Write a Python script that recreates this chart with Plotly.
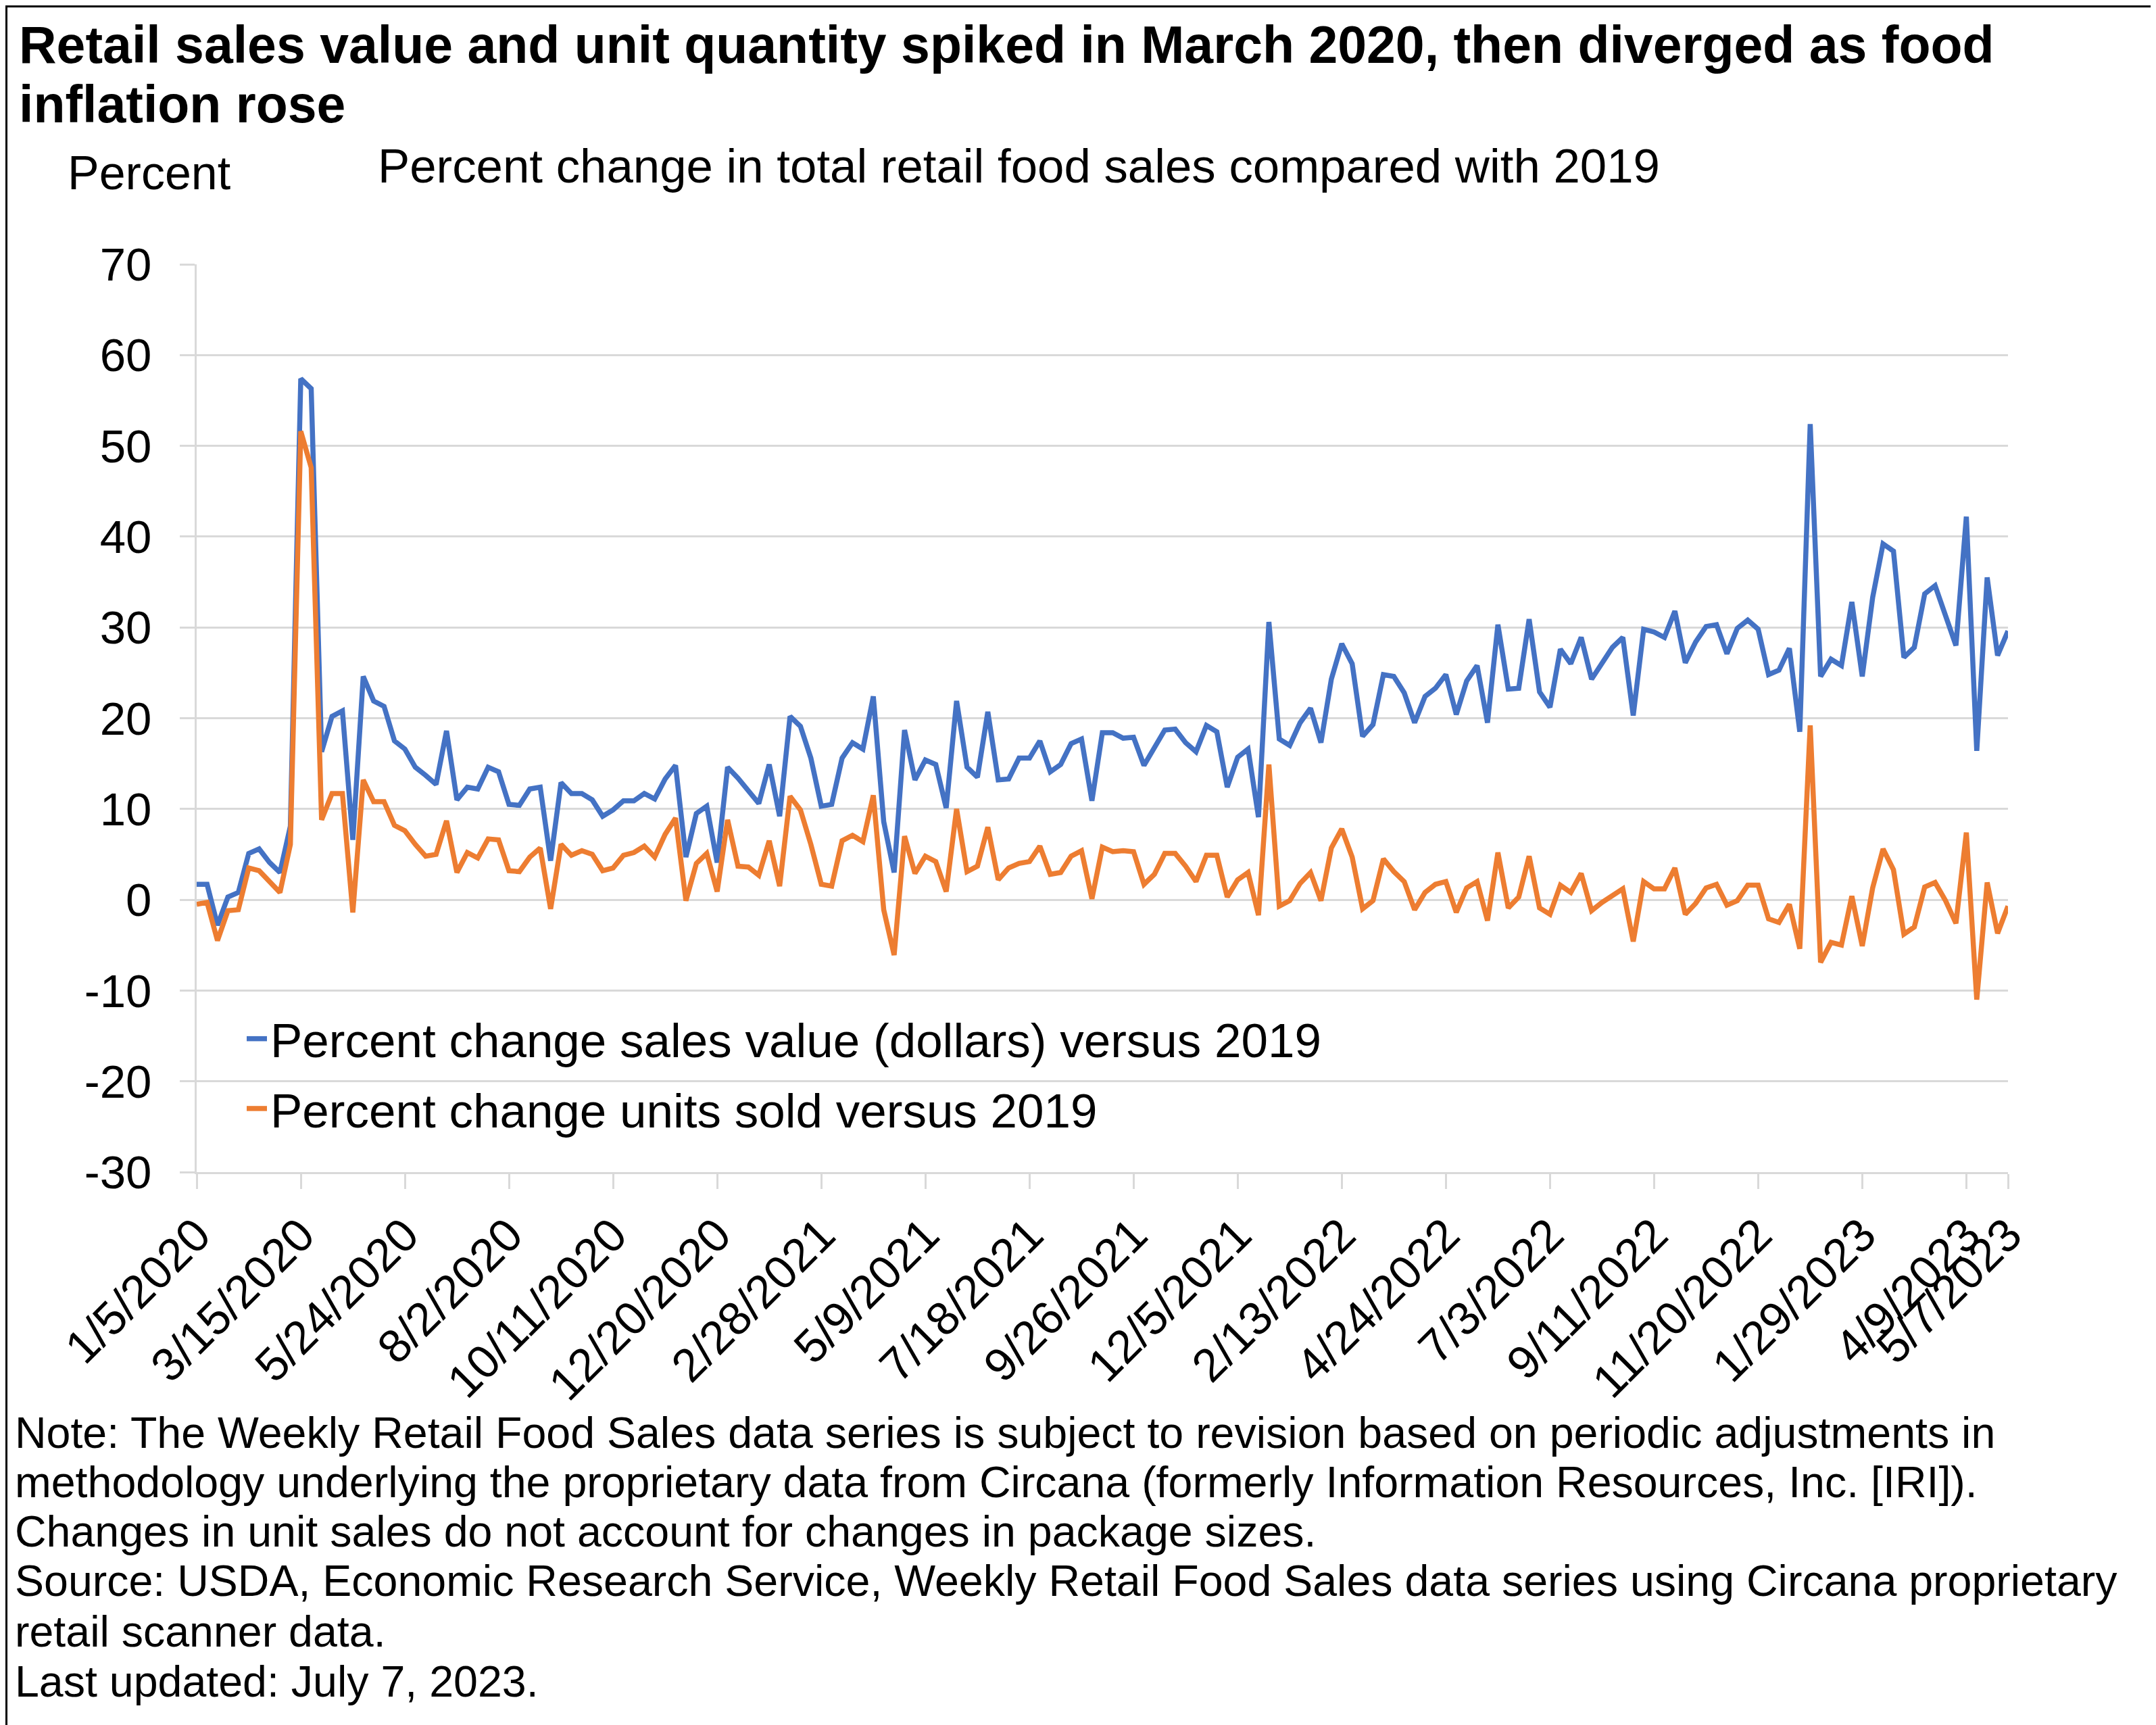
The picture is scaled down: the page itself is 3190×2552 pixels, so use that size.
import pandas as pd
import plotly.graph_objects as go

# ---- data ----
weeks = [d.strftime("%-m/%-d/%Y") for d in pd.date_range("2020-01-05", periods=175, freq="7D")]

sales_value = [
    1.7, 1.7, -2.8, 0.3, 0.8, 5.1, 5.6, 4.1, 3.0, 8.1,
    57.4, 56.3, 16.3, 20.2, 20.8, 6.6, 24.6, 21.9, 21.3, 17.5,
    16.6, 14.6, 13.7, 12.7, 18.6, 11.0, 12.4, 12.2, 14.6, 14.1,
    10.5, 10.4, 12.2, 12.4, 4.3, 12.9, 11.7, 11.7, 11.0, 9.2,
    9.9, 10.9, 10.9, 11.7, 11.1, 13.3, 14.8, 4.7, 9.5, 10.3,
    4.1, 14.6, 13.4, 12.1, 10.6, 14.9, 9.2, 20.2, 19.1, 15.6,
    10.3, 10.5, 15.6, 17.3, 16.6, 22.4, 8.6, 3.0, 18.7, 13.2,
    15.4, 14.9, 10.1, 21.9, 14.6, 13.5, 20.7, 13.2, 13.3, 15.6,
    15.6, 17.5, 14.1, 14.9, 17.2, 17.7, 10.9, 18.4, 18.4, 17.8,
    17.9, 14.8, 16.8, 18.7, 18.8, 17.3, 16.3, 19.2, 18.5, 12.4,
    15.7, 16.6, 9.1, 30.6, 17.7, 17.0, 19.5, 21.1, 17.3, 24.3,
    28.2, 26.0, 18.0, 19.3, 24.8, 24.6, 22.8, 19.5, 22.4, 23.3,
    24.8, 20.4, 24.1, 25.8, 19.5, 30.3, 23.2, 23.3, 30.9, 22.9,
    21.2, 27.6, 26.0, 28.9, 24.3, 26.1, 27.8, 28.9, 20.3, 29.8,
    29.5, 28.9, 31.8, 26.1, 28.4, 30.1, 30.3, 27.1, 29.9, 30.8,
    29.8, 24.8, 25.3, 27.7, 18.5, 52.4, 24.6, 26.5, 25.8, 32.8,
    24.6, 33.3, 39.2, 38.4, 26.7, 27.8, 33.7, 34.6, 31.4, 28.0,
    42.2, 16.4, 35.5, 26.9, 29.6,
]

units_sold = [
    -0.5, -0.3, -4.5, -1.2, -1.1, 3.5, 3.2, 2.0, 0.8, 6.1,
    51.6, 47.6, 8.8, 11.7, 11.7, -1.4, 13.2, 10.8, 10.8, 8.2,
    7.6, 6.1, 4.8, 5.0, 8.7, 3.0, 5.2, 4.6, 6.7, 6.6,
    3.2, 3.1, 4.7, 5.7, -1.0, 6.1, 4.9, 5.4, 5.0, 3.2,
    3.5, 4.9, 5.2, 5.9, 4.7, 7.2, 9.0, -0.1, 4.0, 5.1,
    0.9, 8.8, 3.7, 3.6, 2.7, 6.5, 1.5, 11.4, 9.9, 6.1,
    1.7, 1.5, 6.5, 7.1, 6.4, 11.5, -1.1, -6.1, 7.0, 2.9,
    4.8, 4.2, 0.9, 10.0, 3.1, 3.7, 8.0, 2.2, 3.5, 4.0,
    4.2, 5.9, 2.8, 3.0, 4.8, 5.4, 0.1, 5.8, 5.3, 5.4,
    5.3, 1.7, 2.8, 5.1, 5.1, 3.7, 2.0, 4.9, 4.9, 0.3,
    2.2, 3.0, -1.7, 14.9, -0.7, -0.1, 1.8, 3.0, -0.1, 5.7,
    7.8, 4.7, -1.0, -0.1, 4.5, 3.1, 2.0, -1.1, 0.8, 1.7,
    2.0, -1.4, 1.3, 2.0, -2.3, 5.2, -0.9, 0.3, 4.8, -0.9,
    -1.6, 1.6, 0.8, 2.9, -1.2, -0.3, 0.5, 1.2, -4.6, 2.0,
    1.2, 1.2, 3.5, -1.6, -0.4, 1.3, 1.7, -0.6, -0.1, 1.6,
    1.6, -2.1, -2.5, -0.5, -5.4, 19.2, -6.9, -4.7, -5.0, 0.4,
    -5.1, 1.3, 5.6, 3.3, -3.8, -3.0, 1.4, 1.9, -0.1, -2.6,
    7.4, -11.0, 1.9, -3.7, -0.7,
]

tick_idx = list(range(0, 171, 10)) + [174]
tick_labels = [weeks[i] for i in tick_idx]
y_ticks = list(range(-30, 71, 10))
y_tick_text = [str(v) for v in y_ticks]  # plain hyphen-minus, as in the original

series_names = ["Percent change sales value (dollars) versus 2019",
                "Percent change units sold versus 2019"]
series_colors = ["#4472C4", "#ED7D31"]

title_lines = ["Retail sales value and unit quantity spiked in March 2020, then diverged as food",
               "inflation rose"]
note_lines = [
    "Note: The Weekly Retail Food Sales data series is subject to revision based on periodic adjustments in",
    "methodology underlying the proprietary data from Circana (formerly Information Resources, Inc. [IRI]).",
    "Changes in unit sales do not account for changes in package sizes.",
    "Source: USDA, Economic Research Service, Weekly Retail Food Sales data series using Circana proprietary",
    "retail scanner data.",
    "Last updated: July 7, 2023.",
]

# ---- layout geometry (pixels) ----
W, H = 3190, 2552
L, R, T, B = 283, 227, 383, 826
PW, PH = W - L - R, H - T - B
FONT = "Liberation Sans, Arial, sans-serif"


def px(x):
    return (x - L) / PW


def py(y):
    return (H - B - y) / PH


fig = go.Figure()
for i, (name, vals) in enumerate(zip(series_names, [sales_value, units_sold])):
    fig.add_trace(go.Scatter(
        x=weeks, y=vals, mode="lines", name=name,
        line=dict(color=series_colors[i], width=7.5),
        legendgroup=f"g{i}",
    ))

fig.update_layout(
    width=W, height=H,
    margin=dict(l=L, r=R, t=T, b=B, pad=0),
    paper_bgcolor="white", plot_bgcolor="white",
    font=dict(family=FONT, size=68, color="black"),
    showlegend=True,
    legend=dict(
        x=px(352), y=py(1476), xanchor="left", yanchor="top",
        bgcolor="rgba(0,0,0,0)", font=dict(size=71),
        tracegroupgap=8, traceorder="grouped",
    ),
    xaxis=dict(
        type="category", range=[0, len(weeks) - 1],
        tickmode="array", tickvals=tick_labels, ticktext=tick_labels,
        tickangle=-45, ticks="outside", ticklen=22, tickwidth=2.5,
        tickcolor="#d9d9d9", showgrid=False,
        showline=True, linecolor="#d9d9d9", linewidth=2.5,
        tickfont=dict(size=69), zeroline=False,
    ),
    yaxis=dict(
        range=[-30, 70], tickmode="array", tickvals=y_ticks, ticktext=y_tick_text,
        ticks="outside", ticklen=22, tickwidth=2.5, tickcolor="#d9d9d9",
        showgrid=True, gridcolor="#d9d9d9", gridwidth=2.5,
        showline=True, linecolor="#d9d9d9", linewidth=2.5,
        zeroline=False, tickfont=dict(size=69), ticklabelstandoff=28,
    ),
)

ann = []
title_y = [58, 146]
for t, yy in zip(title_lines, title_y):
    ann.append(dict(text=f"<b>{t}</b>", x=px(18), y=py(yy), xref="paper", yref="paper",
                    xanchor="left", yanchor="middle", showarrow=False,
                    font=dict(size=77, family=FONT)))
ann.append(dict(text="Percent", x=px(90), y=py(248), xref="paper", yref="paper",
                xanchor="left", yanchor="middle", showarrow=False, font=dict(size=70)))
ann.append(dict(text="Percent change in total retail food sales compared with 2019",
                x=px(549), y=py(238), xref="paper", yref="paper",
                xanchor="left", yanchor="middle", showarrow=False, font=dict(size=70.8)))
note_y = [2112, 2185, 2258, 2331, 2406, 2480]
for t, yy in zip(note_lines, note_y):
    ann.append(dict(text=t, x=px(12), y=py(yy), xref="paper", yref="paper",
                    xanchor="left", yanchor="middle", showarrow=False,
                    font=dict(size=64.5)))
fig.update_layout(annotations=ann)

# outer frame
fig.add_shape(type="rect", xref="paper", yref="paper",
              x0=px(1.5), x1=px(W - 1.5), y0=py(H - 1.5), y1=py(1.5),
              line=dict(color="black", width=3), fillcolor="rgba(0,0,0,0)", layer="above")

fig.write_html("out.html")
